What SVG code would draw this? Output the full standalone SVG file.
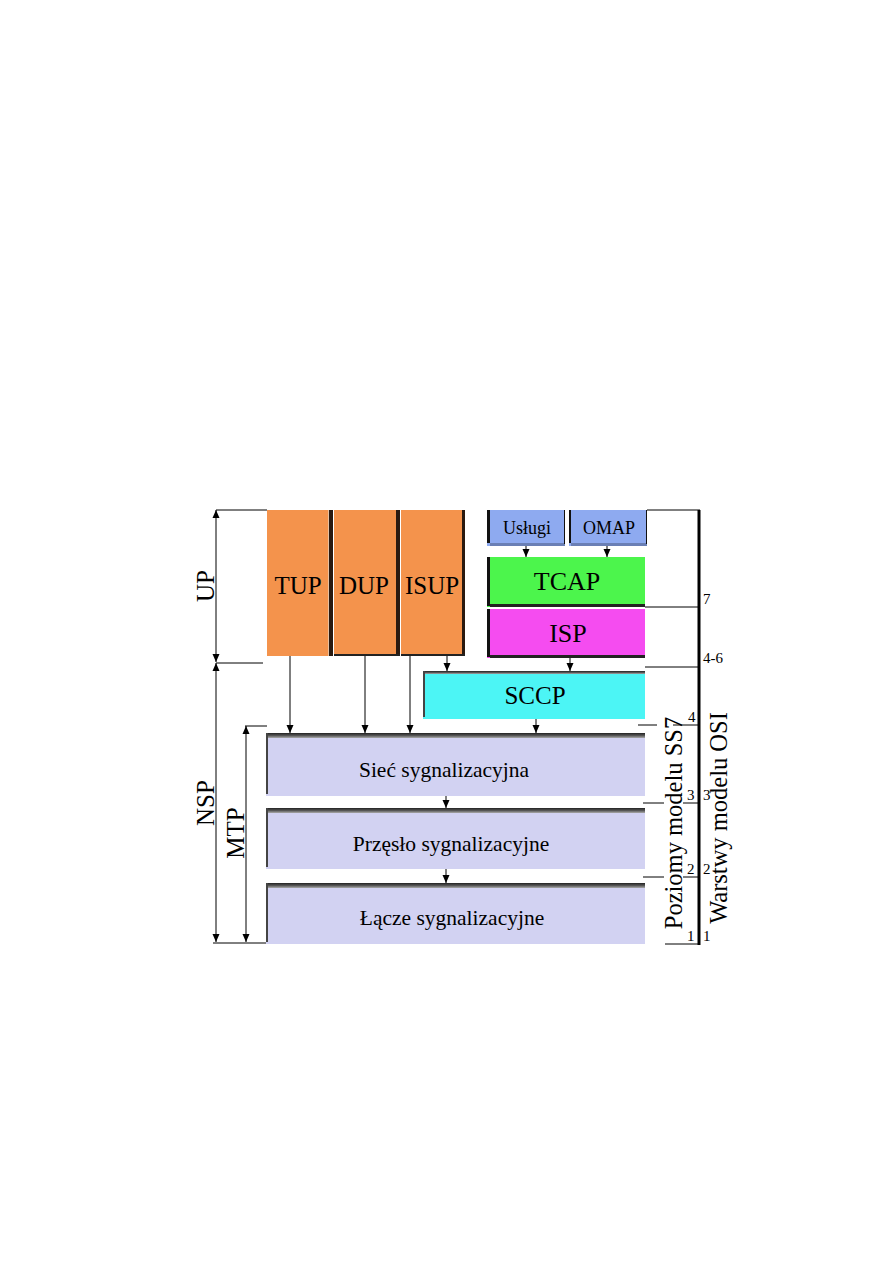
<svg xmlns="http://www.w3.org/2000/svg" width="893" height="1263" viewBox="0 0 893 1263">
<defs>
<style>
text{font-family:"Liberation Serif","Times New Roman",serif;fill:#000}
.ln{stroke:#000;stroke-width:1;fill:none}
.thick{stroke:#000;stroke-width:3;fill:none}
.num{font-size:15px}
</style>
<marker id="ah" viewBox="0 0 8 8" refX="8" refY="4" markerWidth="8" markerHeight="8" markerUnits="userSpaceOnUse" orient="auto">
<path d="M0,0.5 L8,4 L0,7.5 Z" fill="#000"/>
</marker>
<linearGradient id="topg" x1="0" y1="0" x2="0" y2="1">
<stop offset="0" stop-color="#222"/><stop offset="0.5" stop-color="#555"/><stop offset="1" stop-color="#aaa"/>
</linearGradient>
</defs>
<rect width="893" height="1263" fill="#fff"/>

<g id="dimensions">
<line class="ln" x1="216" y1="510" x2="267" y2="510"/>
<line class="ln" x1="216" y1="663" x2="263" y2="663"/>
<line class="ln" x1="216" y1="586" x2="216" y2="510" marker-end="url(#ah)"/>
<line class="ln" x1="216" y1="586" x2="216" y2="662" marker-end="url(#ah)"/>
<line class="ln" x1="216" y1="800" x2="216" y2="663" marker-end="url(#ah)"/>
<line class="ln" x1="216" y1="800" x2="216" y2="942" marker-end="url(#ah)"/>
<line class="ln" x1="245" y1="726" x2="267" y2="726"/>
<line class="ln" x1="213" y1="943" x2="266" y2="943"/>
<line class="ln" x1="246" y1="840" x2="246" y2="726" marker-end="url(#ah)"/>
<line class="ln" x1="246" y1="840" x2="246" y2="942" marker-end="url(#ah)"/>
<text x="205" y="586" font-size="25" text-anchor="middle" dominant-baseline="central" transform="rotate(-90 205 586)">UP</text>
<text x="205" y="803" font-size="25" text-anchor="middle" dominant-baseline="central" transform="rotate(-90 205 803)">NSP</text>
<text x="235" y="833" font-size="25" text-anchor="middle" dominant-baseline="central" transform="rotate(-90 235 833)">MTP</text>
</g>

<g id="TUP">
<rect x="267" y="510" width="63" height="146" fill="#F4934C"/>
<rect x="328" y="510" width="1" height="146" fill="#e8c0a0"/>
<rect x="329" y="510" width="4" height="146" fill="#2a1a10"/>
<text x="298" y="594" font-size="25" text-anchor="middle">TUP</text>
</g>
<g id="DUP">
<rect x="334" y="510" width="63" height="146" fill="#F4934C"/>
<rect x="396" y="510" width="4" height="146" fill="#2a1a10"/>
<rect x="334" y="654" width="66" height="2" fill="#222"/>
<text x="364" y="594" font-size="25" text-anchor="middle">DUP</text>
</g>
<g id="ISUP">
<rect x="401" y="510" width="62" height="146" fill="#F4934C"/>
<rect x="462" y="510" width="3" height="146" fill="#2a1a10"/>
<rect x="401" y="654" width="64" height="2" fill="#222"/>
<text x="432" y="594" font-size="25" text-anchor="middle">ISUP</text>
</g>

<g id="Uslugi">
<rect x="487" y="510" width="78" height="36" fill="#8EAAF0"/>
<rect x="487" y="510" width="3" height="33" fill="#111"/>
<rect x="490" y="543" width="75" height="3" fill="#6a7fb5"/>
<rect x="564" y="510" width="1" height="34" fill="#111"/>
<text x="527" y="534" font-size="18" text-anchor="middle">Usługi</text>
</g>
<g id="OMAP">
<rect x="569" y="510" width="78" height="36" fill="#8EAAF0"/>
<rect x="569" y="510" width="2" height="33" fill="#111"/>
<rect x="571" y="543" width="76" height="3" fill="#6a7fb5"/>
<rect x="646" y="510" width="1" height="34" fill="#111"/>
<text x="609" y="534" font-size="18" text-anchor="middle">OMAP</text>
</g>
<g id="TCAP">
<rect x="487" y="557" width="158" height="50" fill="#4CF54C"/>
<rect x="487" y="557" width="3" height="49" fill="#111"/>
<rect x="490" y="604" width="155" height="3" fill="#222"/>
<text x="567" y="590" font-size="26" text-anchor="middle">TCAP</text>
</g>
<g id="ISP">
<rect x="487" y="609" width="158" height="49" fill="#F54CF0"/>
<rect x="487" y="609" width="3" height="48" fill="#111"/>
<rect x="490" y="655" width="155" height="3" fill="#222"/>
<text x="568" y="642" font-size="26" text-anchor="middle">ISP</text>
</g>
<g id="SCCP">
<rect x="423" y="671" width="222" height="48" fill="#4CF5F5"/>
<rect x="423" y="671" width="222" height="3" fill="url(#topg)"/>
<rect x="423" y="671" width="2" height="46" fill="#444"/>
<text x="535" y="704" font-size="25" text-anchor="middle">SCCP</text>
</g>
<g id="Siec">
<rect x="266" y="733" width="379" height="63" fill="#D2D2F2"/>
<rect x="266" y="733" width="379" height="5" fill="url(#topg)"/>
<rect x="266" y="733" width="2" height="61" fill="#444"/>
<text x="444" y="777" font-size="21.5" text-anchor="middle">Sieć sygnalizacyjna</text>
</g>
<g id="Przeslo">
<rect x="266" y="808" width="379" height="61" fill="#D2D2F2"/>
<rect x="266" y="808" width="379" height="5" fill="url(#topg)"/>
<rect x="266" y="808" width="2" height="59" fill="#444"/>
<text x="451" y="851" font-size="21.5" text-anchor="middle">Przęsło sygnalizacyjne</text>
</g>
<g id="Lacze">
<rect x="266" y="883" width="379" height="61" fill="#D2D2F2"/>
<rect x="266" y="883" width="379" height="5" fill="url(#topg)"/>
<rect x="266" y="883" width="2" height="59" fill="#444"/>
<text x="452" y="925" font-size="21.5" text-anchor="middle">Łącze sygnalizacyjne</text>
</g>

<g id="connectors">
<line class="ln" x1="526" y1="546" x2="526" y2="557" marker-end="url(#ah)"/>
<line class="ln" x1="607" y1="546" x2="607" y2="557" marker-end="url(#ah)"/>
<line class="ln" x1="447" y1="656" x2="447" y2="671" marker-end="url(#ah)"/>
<line class="ln" x1="570" y1="658" x2="570" y2="671" marker-end="url(#ah)"/>
<line class="ln" x1="290" y1="656" x2="290" y2="733" marker-end="url(#ah)"/>
<line class="ln" x1="365" y1="656" x2="365" y2="733" marker-end="url(#ah)"/>
<line class="ln" x1="410" y1="656" x2="410" y2="733" marker-end="url(#ah)"/>
<line class="ln" x1="536" y1="719" x2="536" y2="733" marker-end="url(#ah)"/>
<line class="ln" x1="446" y1="796" x2="446" y2="808" marker-end="url(#ah)"/>
<line class="ln" x1="446" y1="869" x2="446" y2="883" marker-end="url(#ah)"/>
</g>

<g id="scale">
<line class="thick" x1="699" y1="510" x2="699" y2="945"/>
<line class="ln" x1="647" y1="510" x2="700" y2="510"/>
<line class="ln" x1="645" y1="607" x2="700" y2="607"/>
<line class="ln" x1="645" y1="667" x2="700" y2="667"/>
<line class="ln" x1="638" y1="725" x2="657" y2="725"/>
<line class="ln" x1="673" y1="725" x2="700" y2="725"/>
<line class="ln" x1="643" y1="803" x2="664" y2="803"/>
<line class="ln" x1="683" y1="803" x2="700" y2="803"/>
<line class="ln" x1="643" y1="877" x2="664" y2="877"/>
<line class="ln" x1="683" y1="877" x2="700" y2="877"/>
<line class="ln" x1="665" y1="944" x2="700" y2="944"/>
<text class="num" x="703" y="604">7</text>
<text class="num" x="703" y="663">4-6</text>
<text class="num" x="688" y="722">4</text>
<text class="num" x="687" y="800">3</text>
<text class="num" x="703" y="800">3</text>
<text class="num" x="687" y="874">2</text>
<text class="num" x="703" y="874">2</text>
<text class="num" x="687" y="941">1</text>
<text class="num" x="703" y="941">1</text>
<text x="673" y="823" font-size="24.5" text-anchor="middle" dominant-baseline="central" transform="rotate(-90 673 823)">Poziomy modelu SS7</text>
<text x="718" y="818" font-size="24.5" text-anchor="middle" dominant-baseline="central" transform="rotate(-90 718 818)">Warstwy modelu OSI</text>
</g>
</svg>
